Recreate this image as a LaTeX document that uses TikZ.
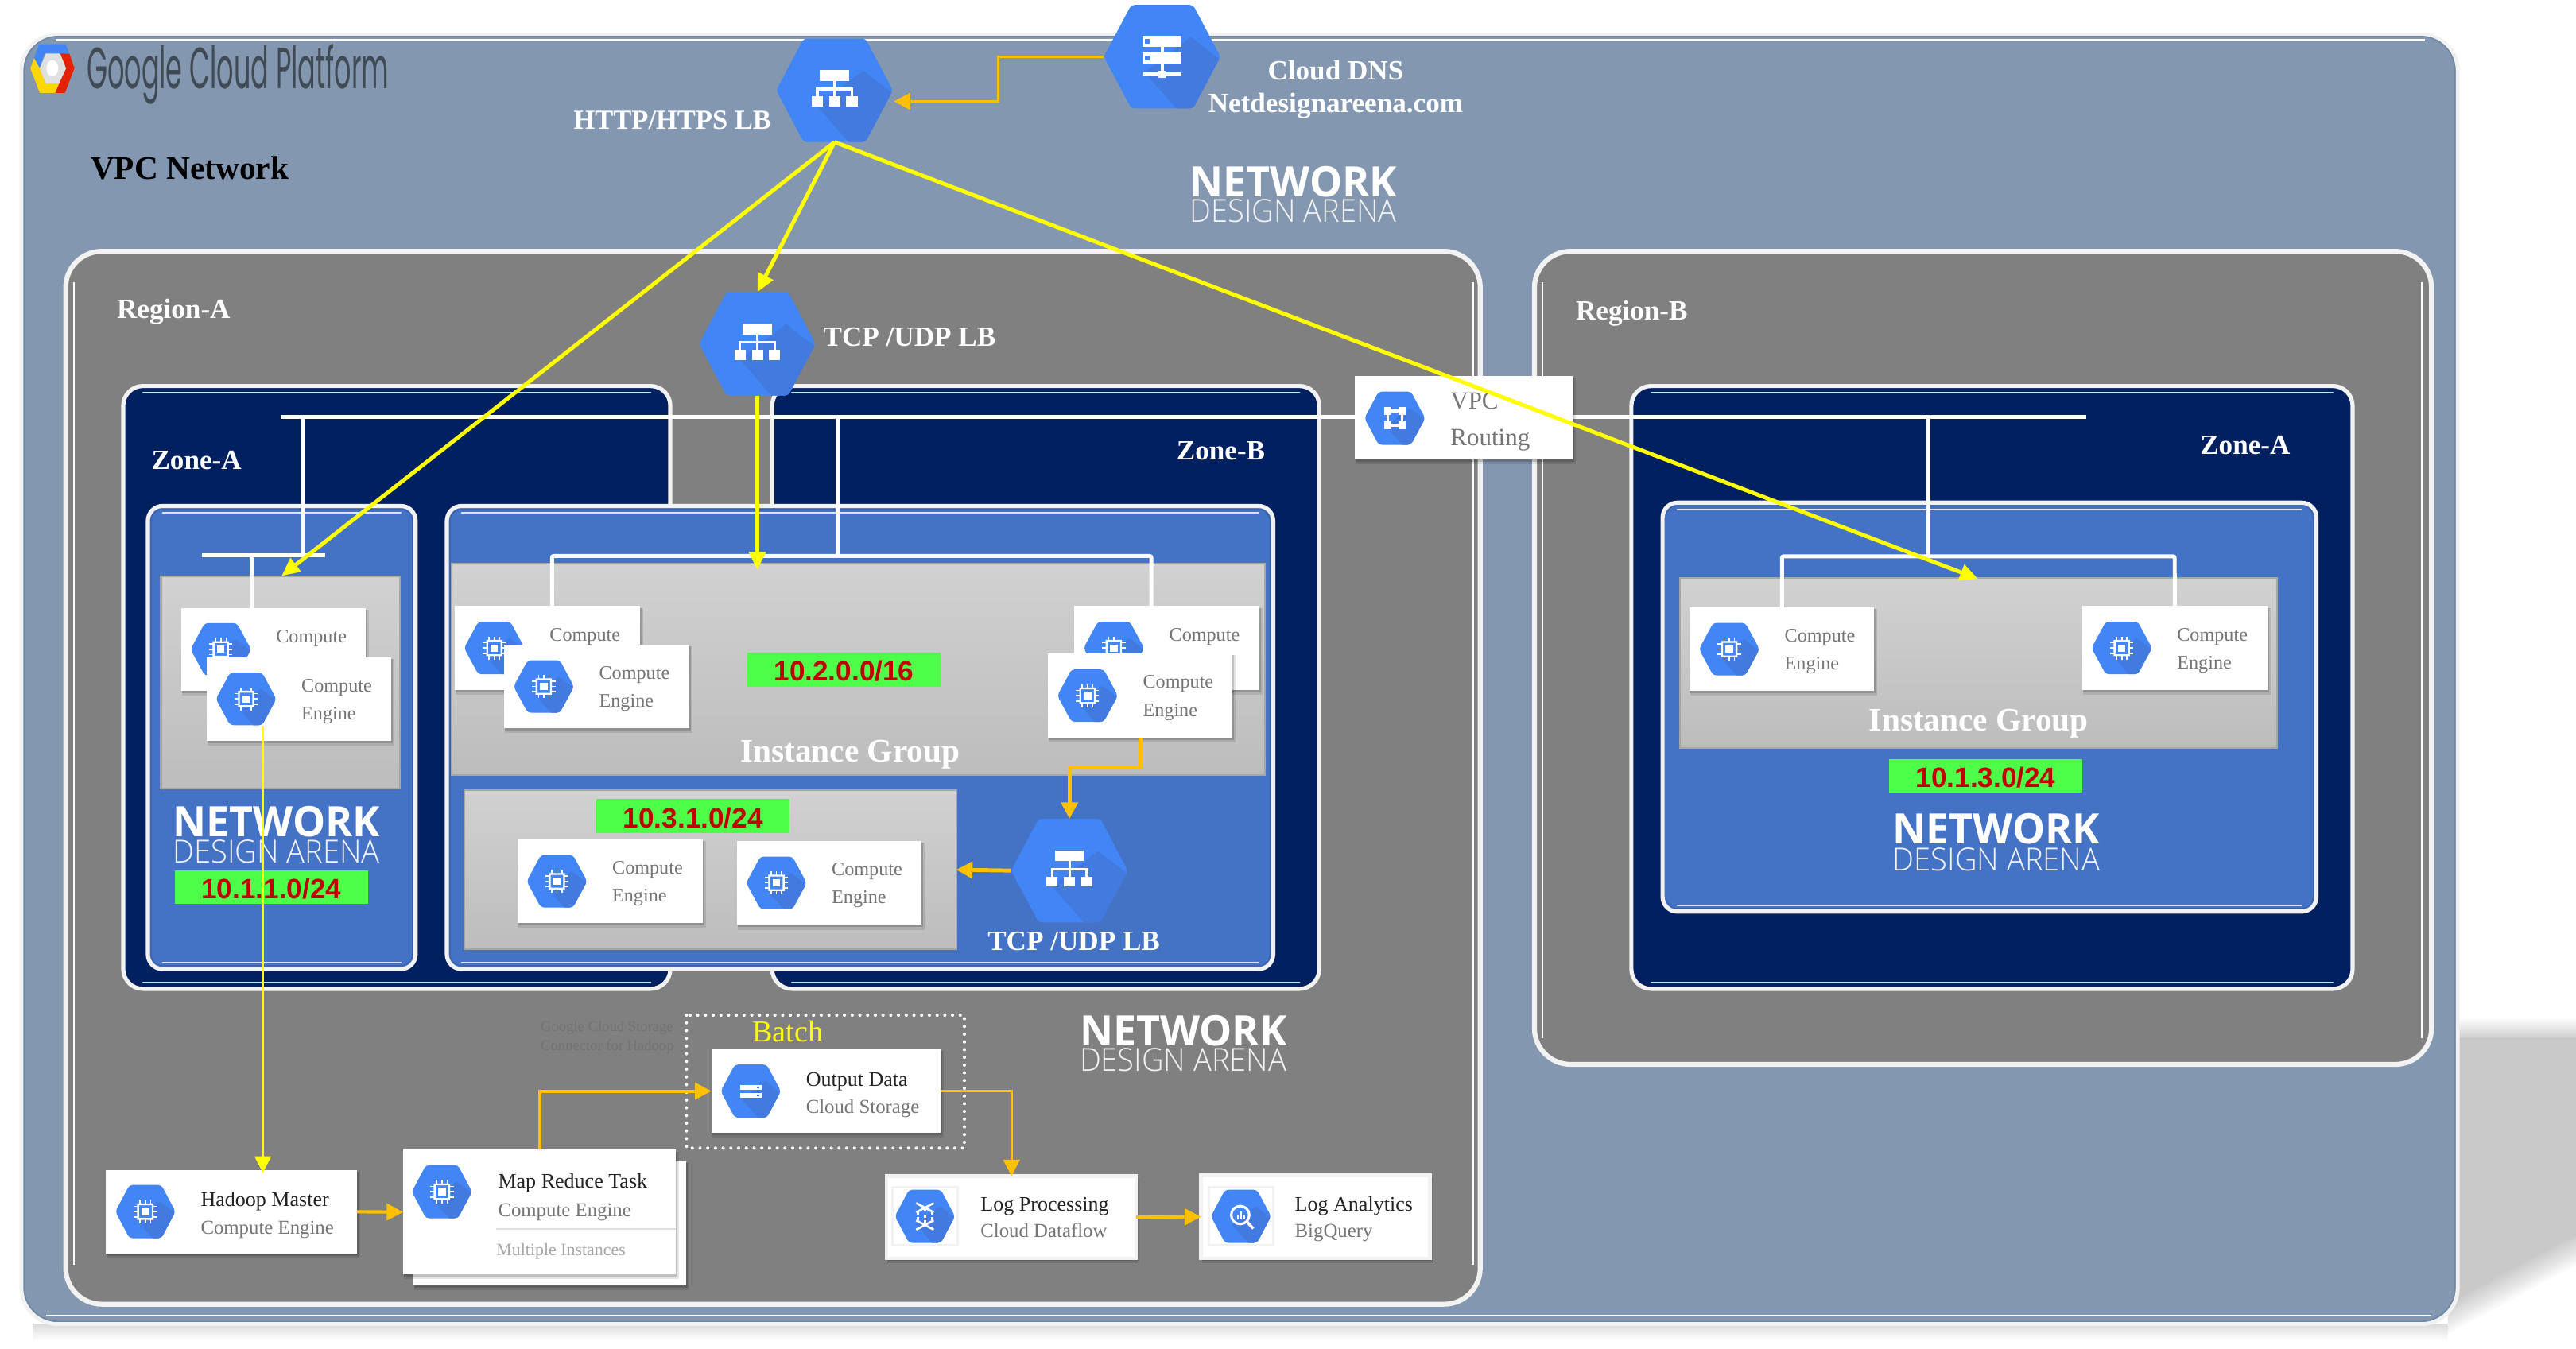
\documentclass[tikz,border=0pt]{standalone}
\usepackage{fontspec}
\usepackage{graphicx}
\setmainfont{Liberation Serif}
\newfontfamily\arialf{Liberation Sans}
\newfontfamily\osans{Open Sans}
\newfontfamily\osanslight{Open Sans Light}
\newfontfamily\gfont{Poppins}
\usetikzlibrary{arrows.meta,calc}
\definecolor{vpcfill}{HTML}{8497B0}
\definecolor{vpcedge}{HTML}{6F88A8}
\definecolor{regfill}{HTML}{808080}
\definecolor{zonefill}{HTML}{002060}
\definecolor{bluefill}{HTML}{4472C4}
\definecolor{blueedge}{HTML}{3A62AD}
\definecolor{edgew}{HTML}{F2F2F2}
\definecolor{hexblue}{HTML}{4285F4}
\definecolor{hexfold}{HTML}{437ADF}
\definecolor{goldc}{HTML}{FFC000}
\definecolor{yel}{HTML}{FFFF00}
\definecolor{ggreen}{HTML}{4EFF4A}
\definecolor{dred}{HTML}{C00000}
\definecolor{txtgray}{HTML}{757575}
\definecolor{txtdark}{HTML}{222222}
\definecolor{logotext}{HTML}{3F4A55}
\definecolor{shadowg}{HTML}{CCCCCC}
\newcommand\fsz[1]{\fontsize{#1}{#1}\selectfont}
\tikzset{
  hexanchor/.style={inner sep=0,outer sep=0},
  cardbox/.style={fill=white,inner sep=0,outer sep=0},
  logbox/.style={fill=white,draw=edgew,line width=2pt,inner sep=0,outer sep=0},
  panelbox/.style={top color=black!18,bottom color=black!26,draw=black!35,line width=1pt,inner sep=0,outer sep=0},
  greenbox/.style={fill=ggreen,text=dred,font=\arialf\bfseries\fsz{17},inner sep=0,outer sep=0,text height=14pt,text depth=0pt},
  boldlabel/.style={font=\bfseries\fsz{17},text=white,inner sep=0},
  blw/.style={boldlabel,anchor=mid west,yshift=-3.5pt},
  grouplabel/.style={font=\bfseries\fsz{20},text=white,inner sep=0,yshift=-2.5pt},
  celabel/.style={font=\fsz{11.7},text=txtgray,anchor=mid west,inner sep=0,yshift=-1.3pt},
  titlelabel/.style={font=\fsz{12.6},text=txtdark,anchor=mid west,inner sep=0,yshift=-2.2pt},
  sublabel/.style={font=\fsz{12},text=txtgray,anchor=mid west,inner sep=0,yshift=-2.2pt},
  routlabel/.style={font=\fsz{15},text=txtgray,anchor=mid west,inner sep=0,yshift=-3pt},
  wire/.style={draw=white,line width=2.4pt},
  ylink/.style={draw=yel,line width=2.4pt,-{Triangle[length=11pt,width=10pt]}},
  ythin/.style={draw=yel,line width=1.1pt,-{Triangle[length=10pt,width=10pt]}},
  glink/.style={draw=goldc,line width=2pt,-{Triangle[length=10pt,width=10pt]}},
  glinkthin/.style={draw=goldc,line width=1.5pt,-{Triangle[length=10pt,width=10pt]}},
}
% x1 y1 x2 y2 fill radius border highlight
\newcommand\gbox[8]{%
  \draw[fill=#5,draw=edgew,line width=#7pt,rounded corners=#6pt] (#1,#2) rectangle (#3,#4);
  \draw[draw=#8,line width=1pt,line cap=round] ({#1+#6},{#2+4}) -- ({#3-#6},{#2+4});
  \draw[draw=#8,line width=1pt,line cap=round] ({#1+#6},{#4-4}) -- ({#3-#6},{#4-4});
}
\newcommand\panel[5]{%
  \node[panelbox,minimum width={(#4-#2)*1pt},minimum height={(#5-#3)*1pt}] (#1) at ({(#2+#4)/2},{(#3+#5)/2}) {};
}
\newcommand\card[6]{% style name x1 y1 x2 y2
  \fill[black,opacity=.10] ({#3+.5},{#4+1}) rectangle ({#5+2},{#6+3});
  \fill[black,opacity=.16] ({#3+.5},{#4+1}) rectangle ({#5+1},{#6+1.5});
  \node[#1,minimum width={(#5-#3)*1pt},minimum height={(#6-#4)*1pt}] (#2) at ({(#3+#5)/2},{(#4+#6)/2}) {};
}
\newcommand\iconchip{%
  \foreach \p in {-.2,0,.2} {
    \fill[white] (\p-.025,-.44) rectangle (\p+.025,.44);
    \fill[white] (-.44,\p-.025) rectangle (.44,\p+.025);
  }
  \fill[hexblue] (-.3,-.3) rectangle (.3,.3);
  \fill[white,even odd rule] (-.31,-.31) rectangle (.31,.31) (-.24,-.24) rectangle (.24,.24);
  \fill[white] (-.14,-.14) rectangle (.14,.14);
}
\newcommand\iconlb{%
  \fill[white] (-.28,-.39) rectangle (.28,-.18);
  \fill[white] (-.025,-.18) rectangle (.025,0);
  \fill[white] (-.36,-.05) rectangle (.36,0);
  \foreach \p in {-.335,0,.335} {
    \fill[white] (\p-.025,-.03) rectangle (\p+.025,.15);
    \fill[white] (\p-.108,.12) rectangle (\p+.108,.31);
  }
}
\newcommand\icondns{%
  \fill[white] (-.38,-.41) rectangle (.38,-.19);
  \fill[white] (-.38,-.08) rectangle (.38,.14);
  \fill[hexblue] (-.33,-.35) rectangle (-.24,-.25);
  \fill[hexblue] (-.33,-.02) rectangle (-.24,.08);
  \fill[white] (-.03,-.19) rectangle (.03,-.08);
  \fill[white] (-.03,.14) rectangle (.03,.31);
  \fill[white] (-.38,.31) rectangle (.38,.37);
  \fill[white] (-.07,.27) rectangle (.07,.41);
}
\newcommand\iconstore{%
  \fill[white] (-.4,-.22) rectangle (.4,-.05);
  \fill[white] (-.4,.06) rectangle (.4,.24);
  \fill[hexblue] (.22,-.16) rectangle (.32,-.1);
  \fill[hexblue] (.22,.12) rectangle (.32,.18);
}
\newcommand\iconvpc{%
  \foreach \a in {-1,1} {
    \fill[white] (-.27,\a*.27-.05) rectangle (.27,\a*.27+.05);
    \fill[white] (\a*.27-.05,-.27) rectangle (\a*.27+.05,.27);
    \foreach \b in {-1,1} {
      \fill[white] (\a*.27-.14,\b*.27-.14) rectangle (\a*.27+.14,\b*.27+.14);
    }
  }
}
\newcommand\iconflow{%
  \draw[white,line width=1.3pt] (-.33,-.5) -- (.33,-.15) (.33,-.5) -- (-.33,-.15);
  \draw[white,line width=1.3pt] (-.33,.5) -- (.33,.15) (.33,.5) -- (-.33,.15);
  \draw[white,line width=1.2pt,dash pattern=on 2pt off 1.6pt] (-.27,-.2) -- (-.27,.2) (0,-.3) -- (0,.3) (.27,-.2) -- (.27,.2);
}
\newcommand\iconbq{%
  \draw[white,line width=1.5pt] (-.03,-.05) circle (.34);
  \draw[white,line width=1.7pt] (.22,.2) -- (.46,.46);
  \fill[white] (-.16,-.05) rectangle (-.1,.12);
  \fill[white] (-.03,-.18) rectangle (.03,.12);
  \fill[white] (.1,-.02) rectangle (.16,.12);
}
% name cx cy hw hh icon
\newcommand\hexn[6]{%
  \node[hexanchor,minimum width={2*#4*1pt},minimum height={2*#5*1pt}] (#1) at ({#2},{#3}) {};
  \begin{scope}[shift={({#2},{#3})},x=#4pt,y=-#5pt]
    \begin{scope}
      \path[clip,rounded corners=2pt] (-1,0) -- (-.53,-1) -- (.53,-1) -- (1,0) -- (.53,1) -- (-.53,1) -- cycle;
      \fill[hexblue] (-1.1,-1.1) rectangle (1.1,1.1);
      \fill[hexfold] (.49,-.38) -- (1.1,.15) -- (1.1,1.1) -- (.32,1.1) -- (-.3,.3) -- cycle;
    \end{scope}
  \end{scope}
  \begin{scope}[shift={({#2},{#3})},x=#5pt,y=-#5pt]
    \csname icon#6\endcsname
  \end{scope}
}
% name x1 y1 x2 y2
\newcommand\cecard[5]{%
  \card{cardbox}{#1}{#2}{#3}{#4}{#5}
  \hexn{#1-hex}{#2+24}{(#3+#5)/2}{18.4}{16}{chip}
  \node[celabel] (#1-a) at ({#2+57.5},{#3+17.5}) {Compute};
  \node[celabel] (#1-b) at ({#2+57.5},{#3+34.5}) {Engine};
}
% name x1 y1 x2 y2
\newcommand\wmark[5]{%
  \node[inner sep=0,anchor=north west,text=white] (#1-a) at (#2,#3) {\resizebox{#4pt}{18.5pt}{\osans\bfseries NETWORK}};
  \node[inner sep=0,anchor=north west,text=edgew] (#1-b) at (#2,#5) {\resizebox{#4pt}{14pt}{\osanslight DESIGN ARENA}};
}
\begin{document}
\begin{tikzpicture}[x=1pt,y=-1pt]
\useasboundingbox (0,0) rectangle (1568,820.8);
% perspective shadow
\fill[top color=white,bottom color=shadowg] (1490,619.5) rectangle (1568,632.5);
\foreach \d in {0,2,...,18} {
  \fill[black,opacity=.022] (1490,632.5) -- (1568,632.5) -- (1568,{752+\d}) -- (1490,{794+\d}) -- cycle;
}
\fill[top color=black!14,bottom color=white] (20,806) rectangle (1490,816);
% VPC
\draw[fill=vpcfill,draw=edgew,line width=2.4pt,rounded corners=22pt] (13,21) rectangle (1496,806);
\draw[draw=vpcedge,line width=.8pt,rounded corners=20.5pt] (14.8,22.2) rectangle (1494.2,804.4);
\draw[draw=white,line width=1.2pt] (34,24.5) -- (1476,24.5);
\draw[draw=white,line width=1pt] (28,800.8) -- (1480,800.8);
% Regions
\gbox{40}{153}{901}{794}{regfill}{22}{3}{regfill}
\gbox{934}{153}{1480}{648}{regfill}{22}{3}{regfill}
\draw[draw=white,line width=1pt] (45,172) -- (45,770) (896.5,172) -- (896.5,770);
\draw[draw=white,line width=1pt] (939,172) -- (939,632) (1474,172) -- (1474,632);
% Zones
\gbox{75}{235}{408}{602}{zonefill}{12}{2.5}{blue!30!cyan!30!white}
\gbox{470}{235}{803}{602}{zonefill}{12}{2.5}{blue!30!cyan!30!white}
\gbox{993}{235}{1432}{602}{zonefill}{12}{2.5}{blue!30!cyan!30!white}
% Subnet boxes
\gbox{90}{308}{253}{590}{bluefill}{9}{2.5}{blue!12!white}
\gbox{272}{308}{775}{590}{bluefill}{9}{2.5}{blue!12!white}
\gbox{1012}{306}{1410}{555}{bluefill}{9}{2.5}{blue!12!white}
\draw[draw=blueedge,line width=.6pt,rounded corners=7pt] (92,310) rectangle (251,588);
\draw[draw=blueedge,line width=.6pt,rounded corners=7pt] (274,310) rectangle (773,588);
\draw[draw=blueedge,line width=.6pt,rounded corners=7pt] (1014,308) rectangle (1408,553);
% Gray panels
\panel{panelA}{98}{351}{243.5}{480}
\panel{panelBu}{275}{343}{770}{472}
\panel{panelBl}{282.5}{481}{582}{578}
\panel{panelC}{1022.7}{352}{1386}{455.5}
% Watermarks
\wmark{wmA}{724}{101}{126}{121}
\wmark{wmB}{105}{490.5}{126}{511}
\wmark{wmC}{657}{618}{126}{638}
\wmark{wmD}{1152}{495}{126}{516}
% Logo
\begin{scope}[shift={(31.9,41.6)},x=13.4pt,y=-15pt]
  \fill[hexblue] (-.61,-.98) -- (.61,-.98) -- (.78,-.58) -- (-.36,-.58) -- (-.58,-.03) -- (-.83,-.41) -- cycle;
  \fill[red!70!orange!90!black] (.35,-.6) -- (.78,-.58) -- (1,0) -- (.57,1) -- (.12,1) -- (.3,.62) -- (.62,0) -- cycle;
  \fill[yellow!75!orange] (-.83,-.41) -- (-1,0) -- (-.57,1) -- (.12,1) -- (.3,.62) -- (-.3,.62) -- (-.58,0) -- cycle;
  \fill[black!12] (-.58,0) -- (-.3,-.6) -- (.35,-.6) -- (.62,0) -- (.3,.62) -- (-.3,.62) -- cycle;
  \fill[white] (0,0) ellipse (.27 and .33);
\end{scope}
\node[inner sep=0,anchor=west,text=logotext] (gcp) at (52.6,45) {\resizebox{184pt}{27pt}{\gfont Google Cloud Platform}};
% Network wires
\coordinate (trunkL) at (171,254);
\coordinate (trunkR) at (1270,254);
\coordinate (tapA) at (184.5,254);
\coordinate (barAc) at (184.5,338);
\coordinate (barAL) at (123,338);
\coordinate (barAR) at (197.7,338);
\coordinate (barAd) at (153,338);
\coordinate (tapB) at (510,254);
\coordinate (barBc) at (510,338.5);
\coordinate (barBL) at (336,338.5);
\coordinate (barBR) at (700.8,338.5);
\coordinate (tapC) at (1174,254);
\coordinate (barCc) at (1174,338.7);
\coordinate (barCL) at (1084.7,338.7);
\coordinate (barCR) at (1323.7,338.7);
\draw[wire] (trunkL) -- (trunkR);
\draw[wire] (tapA) -- (barAc);
\draw[wire] (barAL) -- (barAR);
\draw[wire] (tapB) -- (barBc);
\draw[wire] (tapC) -- (barCc);
% Compute cards
\cecard{ceAb}{110.4}{370}{222.7}{420.6}
\cecard{ceAf}{125.8}{400}{238}{451}
\cecard{ceBLb}{276.9}{369}{389.6}{420}
\cecard{ceBLf}{307}{392.5}{419.6}{443.4}
\cecard{ceBRb}{654}{369}{766.6}{420}
\cecard{ceBRf}{638}{398}{750}{449}
\cecard{ceLl}{315}{511}{427.8}{562}
\cecard{ceLr}{448.6}{512}{561}{563}
\cecard{ceCl}{1028.6}{369.8}{1140.8}{420.6}
\cecard{ceCr}{1267.5}{369}{1380}{420}
\draw[wire] (barAd) -- (barAd |- ceAb.north);
\draw[wire,rounded corners=1pt] (barBL |- ceBLb.north) -- (barBL) -- (barBR) -- (barBR |- ceBRb.north);
\draw[wire,rounded corners=1pt] (ceCl.north) -- (barCL) -- (barCR) -- (ceCr.north);
% Green labels
\node[greenbox,minimum width=117.4pt,minimum height=20.6pt] (net2) at (513.7,407.7) {10.2.0.0/16};
\node[greenbox,minimum width=117.7pt,minimum height=20.4pt] (net3) at (421.9,496.8) {10.3.1.0/24};
\node[greenbox,minimum width=117.6pt,minimum height=20.4pt] (net1) at (165.2,540.2) {10.1.1.0/24};
\node[greenbox,minimum width=117.5pt,minimum height=20.6pt] (net4) at (1208.7,472.3) {10.1.3.0/24};
% Labels
\node[grouplabel] (ig1) at (517.5,457) {Instance Group};
\node[grouplabel] (ig2) at (1204.5,438) {Instance Group};
\node[font=\bfseries\fsz{20},text=black,inner sep=0,anchor=mid west,yshift=-5pt] (vpc) at (55,102) {VPC Network};
\node[blw,font=\bfseries\fsz{16.7}] (l1) at (349,73) {HTTP/HTPS LB};
\node[boldlabel] (l2) at (813,43) {Cloud DNS};
\node[boldlabel] (l3) at (813,64.5) {Netdesignareena.com};
\node[blw] (l4) at (71,188) {Region-A};
\node[blw] (l5) at (959,189) {Region-B};
\node[blw] (l6) at (92,280) {Zone-A};
\node[blw] (l7) at (716,274) {Zone-B};
\node[blw] (l8) at (1339,271) {Zone-A};
\node[blw] (l9) at (501,205) {TCP /UDP LB};
\node[blw] (l10) at (601,573) {TCP /UDP LB};
% Load balancers and DNS
\hexn{dns}{707.4}{34.5}{35.5}{31.5}{dns}
\hexn{http}{508}{55}{35.5}{31.5}{lb}
\hexn{tcp}{461}{209.3}{35.5}{31.5}{lb}
\hexn{tcpb}{651}{530}{35.5}{31.5}{lb}
% VPC routing
\card{cardbox}{vpcr}{824.6}{229}{957.4}{279.7}
\hexn{vpcr-hex}{849}{254.6}{18.5}{16.2}{vpc}
\node[routlabel] (vpcr-a) at (882.7,243.5) {VPC};
\node[routlabel] (vpcr-b) at (882.7,266) {Routing};
% Batch
\node[font=\fsz{9},text=black!55,anchor=mid west,inner sep=0,yshift=-1pt] (gc1) at (329,624.6) {Google Cloud Storage};
\node[font=\fsz{9},text=black!55,anchor=mid west,inner sep=0,yshift=-1pt] (gc2) at (329,636) {Connector for Hadoop};
\draw[white,line width=2pt,line cap=round,dash pattern=on 0pt off 4.7pt] (417.8,618) rectangle (587,699);
\node[font=\fsz{18.4},text=yel,inner sep=0] (batch) at (479.5,628) {Batch};
% Bottom pipeline
\card{cardbox}{hadoop}{64.4}{712.4}{217.3}{763}
\hexn{hadoop-hex}{88.5}{737.6}{18.3}{16.2}{chip}
\node[titlelabel] (hadoop-a) at (122,730) {Hadoop Master};
\node[sublabel] (hadoop-b) at (122,746.6) {Compute Engine};
\card{cardbox}{mapback}{251.8}{707}{417.7}{782.6}
\card{cardbox}{map}{245.4}{700}{411.4}{775.8}
\hexn{map-hex}{269}{725.5}{18.3}{16.2}{chip}
\node[titlelabel] (map-a) at (303,719) {Map Reduce Task};
\node[sublabel] (map-b) at (303,736) {Compute Engine};
\coordinate (mapdiv) at (302,748.4);
\draw[draw=black!12,line width=1pt] (mapdiv) -- (mapdiv -| map.east);
\node[font=\fsz{10.6},text=black!35,anchor=mid west,inner sep=0,yshift=-2pt] (map-c) at (302,760.3) {Multiple Instances};
\card{cardbox}{output}{433}{639}{572.5}{689.5}
\hexn{output-hex}{457}{664.3}{18.3}{16.2}{store}
\node[titlelabel] (output-a) at (490.4,656.8) {Output Data};
\node[sublabel] (output-b) at (490.4,673.5) {Cloud Storage};
\card{logbox}{logp}{539.8}{716}{691.6}{766}
\draw[draw=edgew,line width=1.5pt] (543.3,722.7) rectangle (582.7,758.3);
\hexn{logp-hex}{563}{740.5}{18.3}{16.2}{flow}
\node[titlelabel] (logp-a) at (596.7,732.8) {Log Processing};
\node[sublabel] (logp-b) at (596.7,749) {Cloud Dataflow};
\card{logbox}{loga}{731}{715.5}{870.4}{766}
\draw[draw=edgew,line width=1.5pt] (735.7,722.7) rectangle (775.1,758.3);
\hexn{loga-hex}{755.4}{740.5}{18.3}{16.2}{bq}
\node[titlelabel] (loga-a) at (788,732.8) {Log Analytics};
\node[sublabel] (loga-b) at (788,749) {BigQuery};
% Connector end points
\coordinate (tipA) at (171.4,350.6);
\coordinate (tipC) at (1204,352.4);
\coordinate (tipB) at (461,347);
\coordinate (httpIn) at (544,61.7);
\coordinate (dnsBend) at (607.6,61.7);
\coordinate (tcpbBend) at (651,467);
\coordinate (hadIn) at (160,714);
\coordinate (ceOut) at (160,442);
% Yellow connectors
\draw[ylink] (http.south) -- (tipA);
\draw[ylink] (http.south) -- (tipC);
\draw[ylink] (http.south) -- (tcp.north);
\draw[ylink] (tcp.south) -- (tipB);
\draw[ythin] (ceOut) -- (hadIn);
% Gold connectors
\draw[glinkthin] (dns.west) -| (dnsBend) -- (httpIn);
\draw[glink,line width=2.4pt] (ceBRf.south) |- (tcpbBend) -- (tcpb.north);
\draw[glink,line width=2.4pt] (tcpb.west) -- (panelBl.east);
\draw[glink] (hadoop.east) -- (map.west);
\draw[glink] (map.north) |- (output.west);
\draw[glinkthin] (output.east) -| (logp.north);
\draw[glink] (logp.east) -- (loga.west);
\end{tikzpicture}
\end{document}
